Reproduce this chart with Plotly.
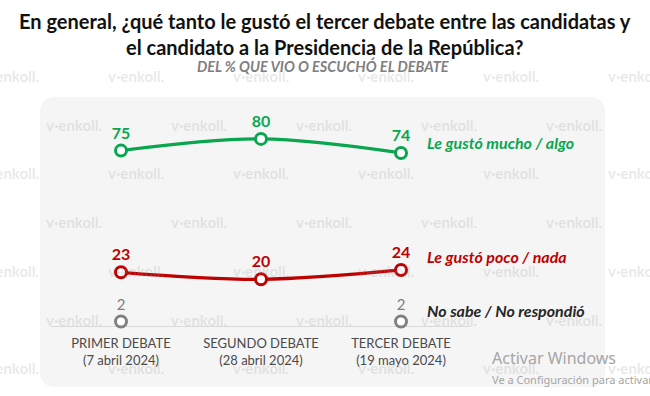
import plotly.graph_objects as go

# ---- data ----
categories = ["PRIMER DEBATE<br>(7 abril 2024)",
              "SEGUNDO DEBATE<br>(28 abril 2024)",
              "TERCER DEBATE<br>(19 mayo 2024)"]
series_names = ["Le gustó mucho / algo", "Le gustó poco / nada", "No sabe / No respondió"]
gusto_mucho = [75, 80, 74]
gusto_poco = [23, 20, 24]
no_sabe = [2, None, 2]

title_text = ("En general, ¿qué tanto le gustó el tercer debate entre las candidatas y"
              "<br>el candidato a la Presidencia de la República?")
subtitle_text = "DEL % QUE VIO O ESCUCHÓ EL DEBATE"

W, H = 650, 396
FONT = "Lato"
GREEN = "#0aa64f"
RED = "#bf0000"
GRAY = "#808080"


def px(x):
    return x / W


def py(y):
    return 1 - y / H


def rounded_rect(x0, y0, x1, y1, r):
    pts = [
        f"M {px(x0 + r)},{py(y0)}",
        f"L {px(x1 - r)},{py(y0)}",
        f"Q {px(x1)},{py(y0)} {px(x1)},{py(y0 + r)}",
        f"L {px(x1)},{py(y1 - r)}",
        f"Q {px(x1)},{py(y1)} {px(x1 - r)},{py(y1)}",
        f"L {px(x0 + r)},{py(y1)}",
        f"Q {px(x0)},{py(y1)} {px(x0)},{py(y1 - r)}",
        f"L {px(x0)},{py(y0 + r)}",
        f"Q {px(x0)},{py(y0)} {px(x0 + r)},{py(y0)}",
        "Z",
    ]
    return " ".join(pts)


fig = go.Figure()


def add_series(vals, color, name, bold=True, line=True, size=16):
    fig.add_trace(go.Scatter(
        x=categories, y=vals, name=name,
        mode="lines+markers+text" if line else "markers+text",
        line=dict(color=color, width=3.2, shape="spline", smoothing=1.0),
        marker=dict(size=11, color="white", line=dict(color=color, width=3)),
        text=[("" if v is None else str(v)) for v in vals],
        textposition="top center",
        textfont=dict(family=FONT, size=size, color=color,
                      weight="bold" if bold else "normal"),
        cliponaxis=False, hoverinfo="skip", showlegend=False,
    ))


add_series(gusto_mucho, GREEN, series_names[0])
add_series(gusto_poco, RED, series_names[1])
add_series(no_sabe, GRAY, series_names[2], bold=False, line=False, size=15)

annotations = []

# watermarks (faint)
for r in range(7):
    yy = 76 + 48.7 * r
    if r % 2 == 0:
        xs = [11 + 125 * k for k in range(6)]
    else:
        xs = [74 + 125 * k for k in range(5)]
    for xx in xs:
        annotations.append(dict(
            x=px(xx), y=py(yy), xref="paper", yref="paper", text="<b>ѵ·enkoll.</b>",
            showarrow=False, xanchor="center", yanchor="middle",
            font=dict(family=FONT, size=15, color="rgba(150,150,150,0.22)"),
        ))

# title
annotations.append(dict(
    x=0.5, y=py(7), xref="paper", yref="paper", text=f"<b>{title_text}</b>",
    showarrow=False, xanchor="center", yanchor="top", align="center",
    font=dict(family=FONT, size=20, color="#111111"),
))

# right-side series labels
for vals, color, name, shift in [(gusto_mucho, GREEN, series_names[0], 10),
                                 (gusto_poco, RED, series_names[1], 13),
                                 (no_sabe, "#262626", series_names[2], 11)]:
    annotations.append(dict(
        x=2, y=vals[2], xref="x", yref="y", text=f"<i><b>{name}</b></i>",
        showarrow=False, xanchor="left", yanchor="middle", xshift=24, yshift=shift,
        font=dict(family=FONT, size=16, color=color),
    ))

# subtitle
annotations.append(dict(
    x=0.497, y=py(66), xref="paper", yref="paper", text=f"<i><b>{subtitle_text}</b></i>",
    showarrow=False, xanchor="center", yanchor="middle",
    font=dict(family=FONT, size=14.5, color="#7f7f7f"),
))

# screen overlay text
annotations.append(dict(
    x=px(490), y=py(358), xref="paper", yref="paper", text="Activar Windows",
    showarrow=False, xanchor="left", yanchor="middle",
    font=dict(family="Noto Sans", size=16, color="#a6a6a6"),
))
annotations.append(dict(
    x=px(490), y=py(379), xref="paper", yref="paper",
    text="Ve a Configuración para activar Windows.",
    showarrow=False, xanchor="left", yanchor="middle",
    font=dict(family="Noto Sans", size=11, color="#a6a6a6"),
))

fig.update_layout(
    width=W, height=H, autosize=False,
    margin=dict(l=0, r=0, t=0, b=0),
    paper_bgcolor="white", plot_bgcolor="rgba(0,0,0,0)",
    xaxis=dict(domain=[px(51), px(471)], range=[-0.5, 2.5], type="category",
               showgrid=False, zeroline=False, showline=False, ticks="",
               tickfont=dict(family=FONT, size=13, color="#4a4a4a"),
               automargin=False, fixedrange=True),
    yaxis=dict(domain=[py(334.3), py(92.1)], range=[-3.5, 100], visible=True,
               showgrid=False, showticklabels=False, ticks="", showline=False,
               zeroline=True, zerolinecolor="#d9d9d9", zerolinewidth=1,
               automargin=False, fixedrange=True),
    shapes=[dict(type="path", path=rounded_rect(40, 97, 605, 387, 16),
                 xref="paper", yref="paper", fillcolor="#f5f5f5",
                 line=dict(width=0), layer="below")],
    annotations=annotations,
    showlegend=False,
)

fig.write_html("out.html", config={"displayModeBar": False},
               post_script="document.body.style.margin='0';document.body.style.overflow='hidden';")
